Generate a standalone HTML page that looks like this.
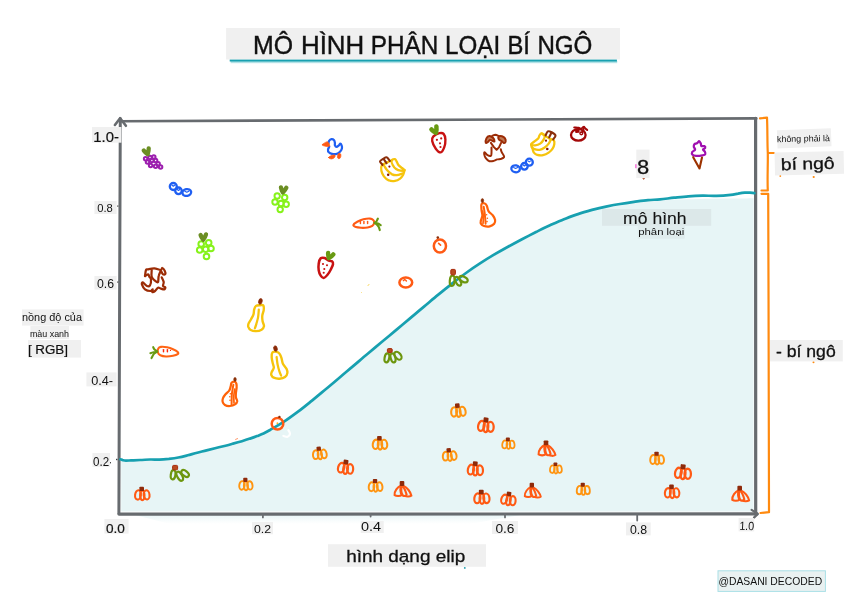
<!DOCTYPE html>
<html lang="vi">
<head>
<meta charset="utf-8">
<title>Mô hình phân loại bí ngô</title>
<style>
  html, body { margin: 0; padding: 0; background: #ffffff; }
  body { width: 849px; height: 600px; overflow: hidden; }
  svg { display: block; }
  text { font-family: "Liberation Sans", sans-serif; fill: #111; }
  .lbl { fill: #f0f0f0; }
  .ax { stroke: #676b6f; fill: none; stroke-linecap: round; stroke-linejoin: round; }
  .or { stroke: #ff8a0f; fill: none; stroke-width: 2.2; stroke-linecap: round; stroke-linejoin: round; }
  .ic { fill: none; stroke-width: 1.6; stroke-linecap: round; stroke-linejoin: round; }
</style>
</head>
<body>
<svg width="849" height="600" viewBox="0 0 849 600">
  <defs>
    <!-- pumpkin: body stroke colour via currentColor -->
    <g id="pk">
      <g fill="none" stroke="currentColor" stroke-width="2.1">
        <ellipse cx="-4.3" cy="2.4" rx="2.9" ry="4.7" transform="rotate(7 -4.3 2.4)"/>
        <ellipse cx="0" cy="2.8" rx="2.2" ry="4.9"/>
        <ellipse cx="4.3" cy="2.4" rx="2.9" ry="4.6" transform="rotate(-7 4.3 2.4)"/>
      </g>
      <rect x="-2.9" y="-5.8" width="4.6" height="4.4" rx="0.9" fill="#8f2a0a"/>
    </g>
    <!-- triangular pumpkin -->
    <g id="pkt">
      <g fill="none" stroke="currentColor" stroke-width="2.1" stroke-linejoin="round">
        <path d="M-1.5,-2.5 C-5,-1 -8.5,3.4 -8,7.2 C-6,8.6 -2.5,8.3 -1,7.2 C-2.5,3.4 -2.5,0 -1.5,-2.5 Z"/>
        <path d="M-0.5,-2.5 C-2,1 -1.5,5.6 0.5,7.8 C2,8.3 3.5,7.8 4,6.7 C3,3 1.5,-0.5 -0.5,-2.5 Z"/>
        <path d="M1,-2 C4.5,-0.5 8,4.2 8.8,7.8 C7,9 3.5,8.8 2.5,7.8"/>
      </g>
      <rect x="-2.9" y="-6.8" width="4.6" height="4.8" rx="0.9" fill="#8f2a0a"/>
    </g>
    <!-- green fan pumpkin -->
    <g id="pkg">
      <g fill="none" stroke="#6c960e" stroke-width="2.2">
        <ellipse cx="-5.6" cy="1.5" rx="2.3" ry="4.6" transform="rotate(10 -5.6 1.5)"/>
        <ellipse cx="0.5" cy="1.5" rx="2.3" ry="4.6" transform="rotate(-15 0.5 1.5)"/>
        <ellipse cx="5.6" cy="-0.8" rx="2.8" ry="4.2" transform="rotate(-38 5.6 -0.8)"/>
      </g>
      <rect x="-5.4" y="-8.2" width="5.2" height="4.4" rx="1" fill="#b84a20" stroke="#a82808" stroke-width="1"/>
    </g>
    <linearGradient id="ulg" x1="0" y1="0" x2="0" y2="1">
      <stop offset="0" stop-color="#3fb3c0" stop-opacity="0.95"/>
      <stop offset="1" stop-color="#9fdbe2" stop-opacity="0"/>
    </linearGradient>
    <linearGradient id="haze" x1="0" y1="0" x2="0" y2="1">
      <stop offset="0" stop-color="#dff1f3" stop-opacity="0.7"/>
      <stop offset="1" stop-color="#e7f5f6" stop-opacity="0"/>
    </linearGradient>
    <!-- heart leaf -->
    <path id="heart" d="M-2.6,-2.2 C-2.1,-0.6 -1,1.2 0,2.5 C1.2,0.9 2.3,-1 2.8,-2.8" fill="none" stroke="currentColor" stroke-width="4.3" stroke-linecap="round" stroke-linejoin="round"/>
  </defs>

  <rect width="849" height="600" fill="#ffffff"/>

  <!-- ===== title ===== -->
  <rect class="lbl" x="226.1" y="28" width="393.9" height="31.5"/>
  <rect x="229.7" y="59.6" width="387.2" height="1.9" fill="#18a0b0"/>
  <rect x="230.6" y="61.3" width="386.6" height="2.6" fill="url(#ulg)"/>
  <text id="t_title" y="53.9" font-size="25" stroke="#111" stroke-width="0.4"><tspan x="253.0" textLength="40" lengthAdjust="spacingAndGlyphs">MÔ</tspan> <tspan x="301.0" textLength="63.2" lengthAdjust="spacingAndGlyphs">HÌNH</tspan> <tspan x="370.8" textLength="67.5" lengthAdjust="spacingAndGlyphs">PHÂN</tspan> <tspan x="445.1" textLength="55.1" lengthAdjust="spacingAndGlyphs">LOẠI</tspan> <tspan x="507.4" textLength="22.5" lengthAdjust="spacingAndGlyphs">BÍ</tspan> <tspan x="537.4" textLength="55" lengthAdjust="spacingAndGlyphs">NGÔ</tspan></text>

  <!-- ===== region fill under curve ===== -->
  <path id="fill" fill="#e7f5f6" d="M121.2,460.0 C121.5,460.0 122.2,460.1 123.0,460.2 C123.8,460.3 124.7,460.6 126.0,460.6 C127.3,460.6 128.7,460.5 131.0,460.4 C133.3,460.3 136.8,460.1 140.0,460.0 C143.2,459.9 146.8,459.6 150.0,459.5 C153.2,459.4 156.2,459.7 159.4,459.6 C162.6,459.5 165.8,459.2 168.9,458.9 C172.1,458.5 175.2,458.1 178.3,457.5 C181.4,456.9 184.5,456.1 187.7,455.3 C190.8,454.5 194.0,453.5 197.2,452.7 C200.3,451.9 203.5,451.2 206.6,450.4 C209.7,449.6 212.8,448.8 216.0,448.0 C219.2,447.2 222.7,446.4 225.5,445.7 C228.3,445.0 230.3,444.4 233.0,443.6 C235.7,442.9 239.1,442.0 241.9,441.2 C244.7,440.4 247.5,439.5 250.0,438.6 C252.5,437.8 254.8,437.0 257.0,436.1 C259.2,435.2 261.3,434.4 263.5,433.4 C265.7,432.4 266.6,431.9 270.0,430.0 C273.4,428.0 279.3,424.7 284.0,421.7 C288.7,418.6 293.3,415.2 298.0,411.7 C302.7,408.2 307.3,404.4 312.0,400.6 C316.7,396.8 321.3,392.9 326.0,389.0 C330.7,385.1 335.3,381.2 340.0,377.2 C344.7,373.3 349.3,369.3 354.0,365.4 C358.7,361.4 363.3,357.4 368.0,353.5 C372.7,349.6 377.3,345.7 382.0,341.8 C386.7,337.9 391.3,334.0 396.0,330.1 C400.7,326.2 405.3,322.3 410.0,318.4 C414.7,314.4 419.3,310.5 424.0,306.6 C428.7,302.7 433.3,298.7 438.0,294.9 C442.7,291.1 447.3,287.3 452.0,283.6 C456.7,280.0 461.3,276.4 466.0,273.0 C470.7,269.6 475.3,266.4 480.0,263.4 C484.7,260.3 489.3,257.5 494.0,254.7 C498.7,251.9 503.3,249.3 508.0,246.7 C512.7,244.2 517.3,241.7 522.0,239.2 C526.7,236.8 531.3,234.4 536.0,232.0 C540.7,229.7 545.3,227.4 550.0,225.3 C554.7,223.2 559.3,221.1 564.0,219.2 C568.7,217.4 573.3,215.6 578.0,214.1 C582.7,212.5 587.3,211.2 592.0,209.9 C596.7,208.7 601.3,207.6 606.0,206.6 C610.7,205.6 615.3,204.7 620.0,204.0 C624.7,203.2 628.7,202.4 634.0,201.8 C639.3,201.2 645.2,200.8 651.9,200.4 C658.6,200.0 666.0,199.8 674.0,199.6 C682.0,199.4 690.7,199.2 700.0,199.0 C709.3,198.8 721.1,198.7 730.0,198.6 C738.9,198.5 749.7,198.3 753.6,198.2 L753.5,511.4 L121.2,511.4 Z"/>

  <!-- faint haze under x axis -->
  <path d="M135,515 L520,515 L470,524 L170,524 Z" fill="url(#haze)"/>
  <!-- ===== axes frame ===== -->
  <path class="ax" stroke-width="3" d="M118.9,513.5 L119.6,300 L120.3,118.6"/>
  <path class="ax" stroke-width="2.6" d="M120.3,121.2 L756.3,118.4"/>
  <path class="ax" stroke-width="3.2" d="M755.6,118.4 L755.7,513.9"/>
  <path class="ax" stroke-width="3.2" d="M119,514.1 L757,513.9"/>
  <!-- arrow heads -->
  <path class="ax" stroke-width="2.6" d="M114.9,125 L120.1,118.2 L125.9,125.8"/>
  <path class="ax" stroke-width="2.2" d="M751.6,509.8 L757.8,513.9 L754,517.6"/>

  <!-- ===== decision curve ===== -->
  <path id="curve" fill="none" stroke="#17a0b0" stroke-width="2.7" stroke-linecap="round" stroke-linejoin="round" d="M120.4,459.3 C120.8,459.4 122.1,460.0 123.0,460.2 C123.9,460.4 124.7,460.6 126.0,460.6 C127.3,460.6 128.7,460.5 131.0,460.4 C133.3,460.3 136.8,460.1 140.0,460.0 C143.2,459.9 146.8,459.6 150.0,459.5 C153.2,459.4 156.2,459.7 159.4,459.6 C162.6,459.5 165.8,459.2 168.9,458.9 C172.1,458.5 175.2,458.1 178.3,457.5 C181.4,456.9 184.5,456.1 187.7,455.3 C190.8,454.5 194.0,453.5 197.2,452.7 C200.3,451.9 203.5,451.2 206.6,450.4 C209.7,449.6 212.8,448.8 216.0,448.0 C219.2,447.2 222.7,446.4 225.5,445.7 C228.3,445.0 230.3,444.4 233.0,443.6 C235.7,442.9 239.1,442.0 241.9,441.2 C244.7,440.4 247.5,439.5 250.0,438.6 C252.5,437.8 254.8,437.0 257.0,436.1 C259.2,435.2 261.3,434.4 263.5,433.4 C265.7,432.4 266.6,431.9 270.0,430.0 C273.4,428.0 279.3,424.7 284.0,421.7 C288.7,418.6 293.3,415.2 298.0,411.7 C302.7,408.2 307.3,404.4 312.0,400.6 C316.7,396.8 321.3,392.9 326.0,389.0 C330.7,385.1 335.3,381.2 340.0,377.2 C344.7,373.3 349.3,369.3 354.0,365.4 C358.7,361.4 363.3,357.4 368.0,353.5 C372.7,349.6 377.3,345.7 382.0,341.8 C386.7,337.9 391.3,334.0 396.0,330.1 C400.7,326.2 405.3,322.3 410.0,318.4 C414.7,314.4 419.3,310.5 424.0,306.6 C428.7,302.7 433.3,298.7 438.0,294.9 C442.7,291.1 447.3,287.3 452.0,283.6 C456.7,280.0 461.3,276.4 466.0,273.0 C470.7,269.6 475.3,266.4 480.0,263.4 C484.7,260.3 489.3,257.5 494.0,254.7 C498.7,251.9 503.3,249.3 508.0,246.7 C512.7,244.2 517.3,241.7 522.0,239.2 C526.7,236.8 531.3,234.4 536.0,232.0 C540.7,229.7 545.3,227.4 550.0,225.3 C554.7,223.2 559.3,221.1 564.0,219.2 C568.7,217.4 573.3,215.6 578.0,214.1 C582.7,212.5 587.3,211.2 592.0,209.9 C596.7,208.7 601.3,207.6 606.0,206.6 C610.7,205.6 615.3,204.7 620.0,204.0 C624.7,203.2 629.3,202.5 634.0,201.8 C638.7,201.2 643.7,200.5 648.0,200.1 C652.3,199.7 655.6,199.8 660.0,199.4 C664.4,199.0 669.4,198.2 674.1,197.7 C678.8,197.2 683.6,196.6 688.3,196.3 C693.0,196.0 697.7,195.8 702.4,195.7 C707.1,195.6 711.8,196.0 716.5,195.8 C721.2,195.7 727.1,195.2 730.7,194.8 C734.3,194.5 735.6,194.0 738.0,193.7 C740.4,193.3 742.8,192.9 744.8,192.7 C746.8,192.5 748.4,192.6 750.0,192.7 C751.6,192.8 753.7,193.0 754.4,193.1"/>

  <!-- ===== orange brackets ===== -->
  <path class="or" d="M760,118.4 L767,117.7 C767.6,130 767.2,142 767.8,153 L773.8,153 M767.8,153 C768,166 767.2,178 767.8,190.5 L761.5,190.5"/>
  <path class="or" d="M761.5,193.8 L768.2,193.8 C768.8,300 768.4,400 769,512.2 L760.5,513"/>
  <circle cx="780.3" cy="176" r="0.9" fill="#ff8a0f"/>
  <circle cx="813.7" cy="177" r="1.1" fill="#ff8a0f"/>
  <circle cx="813.5" cy="362.2" r="1" fill="#ff8a0f"/>

  <!-- ===== right labels ===== -->
  <rect class="lbl" x="777.2" y="129.2" width="54" height="18.2" transform="rotate(-2.2 804.2 138.3)"/>
  <text x="777.0" y="141.6" font-size="8.7" textLength="53.0" lengthAdjust="spacingAndGlyphs" fill="#222" transform="rotate(-1.2 804 141.2)">không phải là</text>
  <rect class="lbl" x="774.8" y="151.8" width="69" height="22.8" transform="rotate(-1.3 809.3 163.2)"/>
  <text x="781.1" y="169.4" font-size="16.5" textLength="53.7" lengthAdjust="spacingAndGlyphs" transform="rotate(-1.6 808 169)" stroke="#111" stroke-width="0.3">bí ngô</text>
  <rect class="lbl" x="770" y="340" width="72.8" height="21.4"/>
  <text x="776.0" y="356.7" font-size="16.5" textLength="59.7" lengthAdjust="spacingAndGlyphs" stroke="#111" stroke-width="0.3">- bí ngô</text>

  <!-- ===== y axis labels ===== -->
  <rect class="lbl" x="92" y="127" width="29.4" height="15.7"/>
  <text x="93.3" y="141.6" font-size="14.2" textLength="25.6" lengthAdjust="spacingAndGlyphs" stroke="#111" stroke-width="0.2">1.0-</text>
  <rect class="lbl" x="94.4" y="201" width="22.2" height="13"/>
  <text x="97.2" y="212.4" font-size="11" textLength="15.6" lengthAdjust="spacingAndGlyphs" fill="#000">0.8</text>
  <rect x="117.2" y="205.4" width="1.2" height="1.4" fill="#555"/>
  <rect class="lbl" x="94.4" y="276" width="22.2" height="13.6"/>
  <text x="97.0" y="288.4" font-size="12" textLength="17.1" lengthAdjust="spacingAndGlyphs" fill="#333">0.6</text>
  <rect x="117.2" y="281.4" width="1.2" height="1.4" fill="#555"/>
  <rect class="lbl" x="86.4" y="372.4" width="30.2" height="14"/>
  <text x="91.2" y="385.4" font-size="12" textLength="21.9" lengthAdjust="spacingAndGlyphs" fill="#333">0.4-</text>
  <rect class="lbl" x="92.4" y="453" width="17.6" height="14"/>
  <text x="93.0" y="466" font-size="12.5" textLength="16.1" lengthAdjust="spacingAndGlyphs">0.2</text>
  <rect x="110" y="462" width="1" height="1.4" fill="#444"/>
  <rect x="116" y="458.8" width="1.4" height="1.4" fill="#444"/>

  <!-- ===== y axis title ===== -->
  <rect class="lbl" x="22" y="309.4" width="61.6" height="16.2"/>
  <text x="22.0" y="321" font-size="10.6" textLength="60.0" lengthAdjust="spacingAndGlyphs" fill="#222">nồng độ của</text>
  <rect class="lbl" x="30.4" y="326" width="38.6" height="13"/>
  <text x="29.9" y="337" font-size="8.4" textLength="39.1" lengthAdjust="spacingAndGlyphs" fill="#222">màu xanh</text>
  <rect class="lbl" x="28" y="340" width="53" height="17.6"/>
  <text x="27.9" y="354.4" font-size="13.6" textLength="40.1" lengthAdjust="spacingAndGlyphs" stroke="#111" stroke-width="0.2">[ RGB]</text>

  <!-- ===== x axis labels ===== -->
  <rect class="lbl" x="104.4" y="519" width="24.2" height="14.6"/>
  <text x="105.9" y="533" font-size="13" textLength="18.9" lengthAdjust="spacingAndGlyphs" stroke="#111" stroke-width="0.2">0.0</text>
  <rect class="lbl" x="252" y="522" width="21" height="12.3"/>
  <text x="254.0" y="532.5" font-size="11.4" textLength="17.1" lengthAdjust="spacingAndGlyphs">0.2</text>
  <rect class="lbl" x="360.7" y="521" width="23" height="12"/>
  <text x="360.9" y="531" font-size="12.4" textLength="20.1" lengthAdjust="spacingAndGlyphs" fill="#333">0.4</text>
  <rect class="lbl" x="492" y="521" width="26" height="13"/>
  <text x="495.4" y="532.5" font-size="12" textLength="19.1" lengthAdjust="spacingAndGlyphs" fill="#333">0.6</text>
  <rect class="lbl" x="626" y="522.4" width="24.7" height="13"/>
  <text x="630.0" y="534" font-size="12" textLength="17.1" lengthAdjust="spacingAndGlyphs" fill="#333">0.8</text>
  <rect class="lbl" x="738.6" y="518" width="15.6" height="13.4"/>
  <text x="739.4" y="530" font-size="12" textLength="14.9" lengthAdjust="spacingAndGlyphs" fill="#333" transform="rotate(3 746 525)">1.0</text>
  <!-- ticks -->
  <g stroke="#6a6e72" stroke-width="1.8" stroke-linecap="round">
    <path d="M262.9,514 V517.4"/>
    <path d="M370.6,514 V516.6"/>
    <path d="M505,514 V517.4"/>
    <path d="M637.2,514 V520.6"/>
  </g>

  <!-- ===== x axis title ===== -->
  <rect class="lbl" x="328" y="544.2" width="158" height="22.6"/>
  <text x="346.2" y="562.1" font-size="17.4" textLength="119.0" lengthAdjust="spacingAndGlyphs" stroke="#111" stroke-width="0.3">hình dạng elip</text>
  <circle cx="464.8" cy="567.9" r="0.9" fill="#1b9bab"/>

  <!-- ===== credit ===== -->
  <rect x="718" y="570.8" width="107.4" height="20.6" fill="#e9f1f1" stroke="#a9dfe6" stroke-width="1"/>
  <text x="718.4" y="585" font-size="11.4" textLength="103.8" lengthAdjust="spacingAndGlyphs">@DASANI DECODED</text>

  <!-- ===== model label ===== -->
  <rect x="602" y="209" width="109.2" height="16.8" fill="#dce8e9"/>
  <text x="623.1" y="224.4" font-size="15.6" textLength="63.5" lengthAdjust="spacingAndGlyphs" fill="#222" stroke="#222" stroke-width="0.12">mô hình</text>
  <rect x="637.8" y="225.8" width="47" height="12.9" fill="#dfeced"/>
  <text x="638.2" y="235.4" font-size="9.6" textLength="46.1" lengthAdjust="spacingAndGlyphs" fill="#222">phân loại</text>

  <!-- ===== "8" label ===== -->
  <rect class="lbl" x="636.3" y="149.6" width="13.2" height="28.5"/>
  <text x="636.9" y="174.4" font-size="20.6" textLength="12.2" lengthAdjust="spacingAndGlyphs" stroke="#111" stroke-width="0.3">8</text>
  <rect x="635.4" y="164.2" width="1" height="4" fill="#f032c8"/>
  <path d="M642.2,178.2 L645.2,178.2 L643.7,179.8 Z" fill="#a33008"/>

  <!-- tiny stray marks -->
  <path d="M368,285.6 L369,284.4" stroke="#f6c40c" stroke-width="0.9" stroke-linecap="round" opacity="0.8"/>
  <circle cx="361.5" cy="292.5" r="0.5" fill="#f6c40c" opacity="0.6"/>
  <path d="M235.6,439.4 L237.6,438.6" stroke="#ff5a14" stroke-width="0.8" stroke-linecap="round" opacity="0.8"/>
  <!-- ICONS -->
  <g id="icons">
    <!-- purple grapes -->
    <circle cx="145.6" cy="158.7" r="1.75" fill="none" stroke="#9c1fae" stroke-width="1.98"/>
    <circle cx="150" cy="157.5" r="1.75" fill="none" stroke="#9c1fae" stroke-width="1.98"/>
    <circle cx="153.8" cy="156.9" r="1.75" fill="none" stroke="#9c1fae" stroke-width="1.98"/>
    <circle cx="147.5" cy="161.9" r="1.75" fill="none" stroke="#9c1fae" stroke-width="1.98"/>
    <circle cx="151.9" cy="160.6" r="1.75" fill="none" stroke="#9c1fae" stroke-width="1.98"/>
    <circle cx="155.6" cy="160.6" r="1.75" fill="none" stroke="#9c1fae" stroke-width="1.98"/>
    <circle cx="150.6" cy="165.6" r="1.75" fill="none" stroke="#9c1fae" stroke-width="1.98"/>
    <circle cx="155.6" cy="166.2" r="1.75" fill="none" stroke="#9c1fae" stroke-width="1.98"/>
    <circle cx="160.6" cy="166.9" r="1.75" fill="none" stroke="#9c1fae" stroke-width="1.98"/>
    <circle cx="158.1" cy="163.8" r="1.75" fill="none" stroke="#9c1fae" stroke-width="1.98"/>
    <use href="#heart" transform="translate(146.9 151.9) rotate(-18) scale(1.0)" color="#6b8e23"/>
    <!-- blueberries -->
    <circle cx="173.3" cy="186.5" r="3.5" fill="none" stroke="#1f5ff2" stroke-width="2.31"/>
    <circle cx="178.5" cy="190.8" r="3.3" fill="none" stroke="#1f5ff2" stroke-width="2.31"/>
    <ellipse cx="186.8" cy="192.5" rx="4.4" ry="3.4" fill="none" stroke="#1f5ff2" stroke-width="2.31" transform="rotate(-12 186.8 192.5)"/>
    <path d="M172.0,185.2 L173.3,186.2 L174.6,185.2" fill="none" stroke="#1f5ff2" stroke-width="1.12" stroke-linecap="round" stroke-linejoin="round"/>
    <path d="M177.3,189.5 L178.5,190.5 L179.7,189.5" fill="none" stroke="#1f5ff2" stroke-width="1.12" stroke-linecap="round" stroke-linejoin="round"/>
    <path d="M184.8,191.2 L186.8,192.2 L188.8,191.2" fill="none" stroke="#1f5ff2" stroke-width="1.12" stroke-linecap="round" stroke-linejoin="round"/>
    <circle cx="529.3" cy="162.2" r="3.5" fill="none" stroke="#1f5ff2" stroke-width="2.31"/>
    <circle cx="524.4" cy="166.3" r="3.3" fill="none" stroke="#1f5ff2" stroke-width="2.31"/>
    <ellipse cx="515.6" cy="168.8" rx="4.3" ry="3.4" fill="none" stroke="#1f5ff2" stroke-width="2.31" transform="rotate(12 515.6 168.8)"/>
    <path d="M528.0,160.9 L529.3,161.9 L530.6,160.9" fill="none" stroke="#1f5ff2" stroke-width="1.12" stroke-linecap="round" stroke-linejoin="round"/>
    <path d="M523.2,165.0 L524.4,166.0 L525.6,165.0" fill="none" stroke="#1f5ff2" stroke-width="1.12" stroke-linecap="round" stroke-linejoin="round"/>
    <path d="M513.6,167.5 L515.6,168.5 L517.6,167.5" fill="none" stroke="#1f5ff2" stroke-width="1.12" stroke-linecap="round" stroke-linejoin="round"/>
    <!-- green grapes -->
    <circle cx="201.2" cy="244" r="2.8" fill="none" stroke="#86f21a" stroke-width="1.98"/>
    <circle cx="208.7" cy="242.8" r="2.8" fill="none" stroke="#86f21a" stroke-width="1.98"/>
    <circle cx="199.7" cy="250" r="2.8" fill="none" stroke="#86f21a" stroke-width="1.98"/>
    <circle cx="205.7" cy="249.2" r="2.8" fill="none" stroke="#86f21a" stroke-width="1.98"/>
    <circle cx="211" cy="248.5" r="2.8" fill="none" stroke="#86f21a" stroke-width="1.98"/>
    <circle cx="206.5" cy="256.5" r="2.8" fill="none" stroke="#86f21a" stroke-width="1.98"/>
    <use href="#heart" transform="translate(203.2 237.2) rotate(0) scale(1.0)" color="#6b8e23"/>
    <circle cx="277.2" cy="196" r="2.7" fill="none" stroke="#86f21a" stroke-width="1.98"/>
    <circle cx="284.7" cy="197.5" r="2.7" fill="none" stroke="#86f21a" stroke-width="1.98"/>
    <circle cx="275" cy="202" r="2.7" fill="none" stroke="#86f21a" stroke-width="1.98"/>
    <circle cx="281" cy="203.5" r="2.7" fill="none" stroke="#86f21a" stroke-width="1.98"/>
    <circle cx="286.2" cy="204.2" r="2.7" fill="none" stroke="#86f21a" stroke-width="1.98"/>
    <circle cx="280.2" cy="209.5" r="2.7" fill="none" stroke="#86f21a" stroke-width="1.98"/>
    <use href="#heart" transform="translate(283.2 190) rotate(8) scale(1.0)" color="#6b8e23"/>
    <!-- dogs -->
    <path d="M145.0,276.0 C145.2,275.0 145.5,271.1 146.0,270.0 C146.5,268.9 146.6,269.6 148.0,269.3 C149.4,269.0 152.2,268.2 154.3,268.3 C156.4,268.4 159.4,270.1 160.7,270.0 C162.0,269.9 161.6,267.9 162.3,268.0 C163.0,268.1 164.2,269.7 164.7,270.7 C165.2,271.7 165.6,273.4 165.3,274.0 C165.0,274.6 163.7,274.8 163.0,274.3 C162.3,273.8 161.3,271.6 161.0,271.0" fill="none" stroke="#9c2c06" stroke-width="2.24" stroke-linecap="round" stroke-linejoin="round"/>
    <path d="M151.7,270.0 C151.7,271.1 151.1,274.9 151.7,276.7 C152.2,278.5 153.9,279.8 155.0,280.7 C156.1,281.6 157.4,282.8 158.0,282.0 C158.6,281.2 158.2,277.8 158.7,276.0 C159.1,274.2 160.4,271.8 160.7,271.0" fill="none" stroke="#9c2c06" stroke-width="2.24" stroke-linecap="round" stroke-linejoin="round"/>
    <path d="M145.0,276.0 C145.6,275.7 147.6,274.2 148.3,274.3 C149.0,274.4 148.9,275.9 149.3,276.7 C149.8,277.5 150.9,277.9 151.0,279.3 C151.1,280.7 150.7,284.2 150.0,285.3 C149.3,286.4 148.2,286.5 147.0,286.0 C145.8,285.5 143.5,282.5 142.7,282.3 C141.9,282.1 141.6,283.5 142.0,284.7 C142.4,285.9 143.6,288.2 145.0,289.3 C146.4,290.4 149.0,291.0 150.3,291.0 C151.6,291.0 152.4,289.1 152.7,289.3 C153.0,289.5 151.9,291.7 152.3,292.0 C152.7,292.3 154.1,291.7 155.0,291.0 C155.9,290.3 157.0,288.1 158.0,287.7 C159.0,287.3 159.9,288.4 161.0,288.7 C162.1,289.0 163.6,289.5 164.3,289.3 C165.0,289.1 165.5,287.9 165.3,287.3 C165.1,286.8 163.3,286.9 163.0,286.0 C162.7,285.1 163.9,283.4 163.7,282.0 C163.5,280.6 162.0,278.1 161.7,277.3" fill="none" stroke="#9c2c06" stroke-width="2.24" stroke-linecap="round" stroke-linejoin="round"/>
    <path d="M485.8,142.9 C485.6,142.3 485.8,139.6 486.4,138.4 C487.0,137.2 488.3,136.1 489.4,136.0 C490.5,135.9 492.1,136.9 493.0,137.8 C493.9,138.7 494.6,140.9 494.5,141.4 C494.4,141.9 493.1,141.1 492.4,140.8 C491.6,140.6 490.8,139.7 490.0,139.9 C489.2,140.1 488.6,141.5 487.9,142.0 C487.2,142.5 486.1,143.5 485.8,142.9 Z" fill="#c07a55" stroke="#9c2c06" stroke-width="1.98" stroke-linecap="round" stroke-linejoin="round"/>
    <path d="M498.7,136.6 C499.2,136.1 500.9,136.0 502.0,136.3 C503.1,136.6 504.4,137.5 505.0,138.4 C505.6,139.3 505.8,140.9 505.6,141.7 C505.4,142.4 504.5,143.0 503.8,142.9 C503.1,142.8 502.5,141.7 501.7,141.1 C500.9,140.5 499.5,140.3 499.0,139.6 C498.5,138.8 498.2,137.1 498.7,136.6 Z" fill="#c07a55" stroke="#9c2c06" stroke-width="1.98" stroke-linecap="round" stroke-linejoin="round"/>
    <path d="M492.4,135.7 C492.9,135.5 494.3,134.8 495.4,134.8 C496.4,134.9 498.1,135.8 498.7,136.0" fill="none" stroke="#9c2c06" stroke-width="1.98" stroke-linecap="round" stroke-linejoin="round"/>
    <path d="M490.9,142.9 L493.9,147.1 L496.6,149.8 L499.0,147.4 L501.1,142.9" fill="none" stroke="#9c2c06" stroke-width="1.98" stroke-linecap="round" stroke-linejoin="round"/>
    <path d="M491.5,147.4 C491.5,148.3 491.6,151.4 491.5,152.8 C491.4,154.2 491.5,155.4 490.9,155.8 C490.2,156.2 488.7,155.8 487.6,155.2 C486.6,154.6 485.2,152.3 484.6,152.2 C484.1,152.1 484.1,153.6 484.3,154.6 C484.5,155.6 485.0,157.1 485.8,158.2 C486.6,159.3 488.1,160.8 489.4,161.2 C490.7,161.6 492.3,161.2 493.6,160.9 C494.9,160.6 495.9,159.8 497.2,159.4 C498.5,159.1 500.2,159.2 501.4,158.8 C502.5,158.4 503.8,157.7 504.1,157.0 C504.4,156.3 503.6,155.4 503.2,154.6 C502.8,153.8 502.1,153.1 501.7,152.2 C501.3,151.3 500.9,149.7 500.8,149.2" fill="none" stroke="#9c2c06" stroke-width="1.98" stroke-linecap="round" stroke-linejoin="round"/>
    <!-- duck -->
    <path d="M328.5,143.5 C328.6,143.1 328.6,141.5 329.1,140.8 C329.6,140.1 330.7,139.3 331.5,139.2 C332.3,139.1 333.3,139.4 333.9,140.0 C334.5,140.6 334.7,141.8 334.9,142.7 C335.1,143.6 334.6,144.6 334.9,145.3 C335.2,146.0 335.8,146.9 336.5,146.9 C337.2,146.9 338.3,145.8 338.9,145.3 C339.5,144.8 339.9,143.7 340.3,143.7 C340.8,143.7 341.3,144.5 341.6,145.3 C341.9,146.1 342.2,147.4 341.9,148.5 C341.6,149.6 340.9,150.8 340.0,151.7 C339.1,152.6 338.1,153.5 336.8,153.9 C335.5,154.3 333.3,154.2 332.0,153.9 C330.7,153.6 329.5,153.0 328.8,152.3 C328.1,151.6 327.9,150.5 328.0,149.6 C328.1,148.7 329.1,147.2 329.3,146.7" fill="none" stroke="#1f5ff2" stroke-width="2.24" stroke-linecap="round" stroke-linejoin="round"/>
    <path d="M322.4,144.5 C323.0,143.9 325.6,142.1 326.7,141.9 C327.8,141.7 328.3,142.5 328.8,143.2 C329.3,143.9 330.0,145.4 329.6,145.9 C329.2,146.4 327.8,146.5 326.7,146.4 C325.6,146.3 323.9,145.9 323.2,145.6 C322.5,145.3 321.8,145.1 322.4,144.5 Z" fill="#ff5a14" stroke="#ff5a14" stroke-width="0.79" stroke-linecap="round" stroke-linejoin="round"/>
    <path d="M328.5,157.6 C328.5,157.0 330.4,155.9 331.5,155.5 C332.6,155.1 334.4,154.8 334.9,155.2 C335.4,155.5 335.0,157.0 334.4,157.6 C333.8,158.2 332.5,158.9 331.5,158.9 C330.5,158.9 328.5,158.2 328.5,157.6 Z" fill="#ff5a14" stroke="#ff5a14" stroke-width="0.79" stroke-linecap="round" stroke-linejoin="round"/>
    <ellipse cx="339.2" cy="156" rx="1.7" ry="2.7" fill="#ff5a14" stroke="#ff5a14" stroke-width="0.66" transform="rotate(12 339.2 156)"/>
    <!-- bananas -->
    <path d="M391.6,160.5 C390.8,160.8 388.5,161.8 386.8,162.6 C385.1,163.4 382.6,164.2 381.7,165.6 C380.8,166.9 381.0,168.9 381.4,170.7 C381.8,172.5 382.7,174.8 383.9,176.4 C385.1,178.0 386.8,179.6 388.7,180.3 C390.6,181.1 393.1,181.2 395.0,180.9 C396.9,180.6 398.7,179.6 400.1,178.6 C401.5,177.6 402.4,176.1 403.2,174.7 C403.9,173.3 404.4,170.9 404.6,170.1" fill="none" stroke="#f6c40c" stroke-width="2.31" stroke-linecap="round" stroke-linejoin="round"/>
    <path d="M384.2,165.9 C384.7,166.6 385.8,168.7 387.0,170.1 C388.2,171.5 390.0,173.2 391.6,174.1 C393.2,174.9 394.9,175.3 396.7,175.2 C398.5,175.1 401.4,173.8 402.3,173.5" fill="none" stroke="#f6c40c" stroke-width="2.31" stroke-linecap="round" stroke-linejoin="round"/>
    <path d="M391.6,160.5 C392.0,159.5 394.1,158.9 395.0,159.1 C395.9,159.3 396.1,160.6 396.7,161.6 C397.3,162.6 397.5,163.9 398.4,165.0 C399.2,166.1 400.8,167.1 401.8,167.9 C402.8,168.8 404.8,169.6 404.6,170.1 C404.4,170.6 402.0,170.9 400.6,170.7 C399.2,170.5 397.4,169.9 396.1,169.0 C394.8,168.1 393.4,166.4 392.7,165.0 C391.9,163.6 391.2,161.5 391.6,160.5 Z" fill="none" stroke="#f6c40c" stroke-width="2.31" stroke-linecap="round" stroke-linejoin="round"/>
    <path d="M382.5,164.8 C382.1,164.2 379.9,162.4 380.0,161.4 C380.1,160.4 381.9,159.5 383.1,158.8 C384.3,158.1 385.9,157.0 387.0,157.4 C388.1,157.8 389.3,160.4 389.8,161.0" fill="none" stroke="#8c2f0c" stroke-width="2.11" stroke-linecap="round" stroke-linejoin="round"/>
    <path d="M383.9,159.4 L386.5,163.1" fill="none" stroke="#8c2f0c" stroke-width="2.11" stroke-linecap="round" stroke-linejoin="round"/>
    <circle cx="389.4" cy="166.6" r="1.1" fill="#8a1a00"/>
    <circle cx="388.2" cy="174.8" r="1.25" fill="#8a1a00"/>
    <path d="M541.6,133.4 C542.2,133.8 543.9,135.0 545.3,135.9 C546.7,136.8 548.4,138.1 549.8,138.8 C551.2,139.5 553.0,139.3 553.8,140.2 C554.5,141.1 554.5,142.7 554.3,144.1 C554.1,145.5 553.5,147.3 552.6,148.7 C551.7,150.1 550.3,151.5 548.7,152.6 C547.1,153.7 544.9,154.8 543.0,155.2 C541.1,155.6 538.8,155.3 537.3,154.9 C535.8,154.5 534.7,153.6 533.9,152.6 C533.1,151.6 533.0,150.0 532.5,148.7 C532.0,147.4 531.3,145.4 531.1,144.7" fill="none" stroke="#f6c40c" stroke-width="2.31" stroke-linecap="round" stroke-linejoin="round"/>
    <path d="M550.9,139.6 C550.5,140.3 549.7,142.3 548.7,143.6 C547.7,144.9 546.2,146.5 544.7,147.5 C543.2,148.5 541.3,149.5 539.6,149.8 C537.9,150.1 535.8,149.7 534.5,149.2 C533.2,148.7 532.2,147.4 531.7,147.0" fill="none" stroke="#f6c40c" stroke-width="2.31" stroke-linecap="round" stroke-linejoin="round"/>
    <path d="M541.6,133.4 C540.8,133.3 540.2,134.2 539.6,135.1 C539.0,135.9 539.1,137.5 538.2,138.5 C537.4,139.5 535.7,140.3 534.5,141.3 C533.3,142.3 531.0,143.7 531.1,144.4 C531.2,145.1 533.6,145.4 535.1,145.3 C536.6,145.2 538.8,144.6 540.2,143.6 C541.6,142.6 542.9,140.9 543.6,139.6 C544.4,138.3 545.0,136.6 544.7,135.6 C544.4,134.6 542.5,133.5 541.6,133.4 Z" fill="none" stroke="#f6c40c" stroke-width="2.31" stroke-linecap="round" stroke-linejoin="round"/>
    <path d="M545.6,135.4 C546.0,134.7 546.8,131.9 547.8,131.4 C548.8,130.9 550.2,131.5 551.5,132.2 C552.8,132.9 555.2,134.2 555.5,135.4 C555.8,136.6 553.6,138.7 553.2,139.3" fill="none" stroke="#8c2f0c" stroke-width="2.11" stroke-linecap="round" stroke-linejoin="round"/>
    <path d="M551.5,132.5 L549.2,137.3" fill="none" stroke="#8c2f0c" stroke-width="2.11" stroke-linecap="round" stroke-linejoin="round"/>
    <circle cx="546" cy="140.7" r="1.1" fill="#8a1a00"/>
    <circle cx="547.3" cy="149" r="1.3" fill="#8a1a00"/>
    <!-- strawberries -->
    <path d="M433.4,136.4 C432.2,137.7 431.8,138.9 432.2,140.9 C432.6,142.9 434.4,146.8 435.8,148.7 C437.2,150.6 439.3,152.6 440.7,152.4 C442.1,152.2 443.4,149.5 444.2,147.4 C445.0,145.3 445.5,141.8 445.4,139.6 C445.3,137.3 444.6,135.0 443.6,133.9 C442.6,132.8 441.1,132.8 439.4,133.2 C437.7,133.6 434.6,135.1 433.4,136.4 Z" fill="none" stroke="#c81212" stroke-width="2.38" stroke-linecap="round" stroke-linejoin="round"/>
    <circle cx="436.9" cy="139.8" r="1.1" fill="#c81212"/>
    <circle cx="441.2" cy="138.4" r="1.1" fill="#c81212"/>
    <circle cx="440" cy="143.3" r="1.1" fill="#c81212"/>
    <circle cx="440.5" cy="147" r="1.1" fill="#c81212"/>
    <use href="#heart" transform="translate(434.9 130.4) rotate(-24) scale(1.05)" color="#689a12"/>
    <path d="M320.7,258.3 C319.7,259.2 319.0,261.7 318.7,263.7 C318.4,265.7 318.4,268.3 318.7,270.3 C319.0,272.3 319.9,274.4 320.7,275.7 C321.5,277.0 322.6,278.1 323.7,278.0 C324.8,277.9 326.1,276.4 327.3,275.0 C328.5,273.6 329.8,271.5 330.7,269.7 C331.6,267.9 332.8,265.7 333.0,264.3 C333.2,262.9 332.7,261.9 332.0,261.3 C331.3,260.7 329.9,261.2 328.7,260.7 C327.5,260.1 326.0,258.4 324.7,258.0 C323.4,257.6 321.7,257.4 320.7,258.3 Z" fill="none" stroke="#c81212" stroke-width="2.51" stroke-linecap="round" stroke-linejoin="round"/>
    <circle cx="323" cy="264" r="1.05" fill="#c81212"/>
    <circle cx="327" cy="265.3" r="1.05" fill="#c81212"/>
    <circle cx="324.3" cy="269" r="1.05" fill="#c81212"/>
    <circle cx="323.7" cy="272.7" r="1.05" fill="#c81212"/>
    <use href="#heart" transform="translate(329.7 255.9) rotate(22) scale(1.0)" color="#689a12"/>
    <!-- tomato -->
    <ellipse cx="578.3" cy="134.9" rx="7.3" ry="5.8" fill="none" stroke="#a30808" stroke-width="2.31"/>
    <path d="M574.2,127.4 C574.9,127.5 577.4,127.6 578.6,127.8 C579.8,128.0 580.3,128.9 581.2,128.7 C582.1,128.5 583.1,126.8 583.8,126.7 C584.4,126.6 584.5,127.6 585.1,128.2 C585.7,128.8 586.9,129.7 587.2,130.0" fill="none" stroke="#a30808" stroke-width="1.98" stroke-linecap="round" stroke-linejoin="round"/>
    <path d="M575.8,129.4 L578.6,129.4 L578.8,132.0 L576.0,132.2 Z" fill="#a30808" stroke="#a30808" stroke-width="1.58" stroke-linecap="round" stroke-linejoin="round"/>
    <circle cx="581.3" cy="133.3" r="1.4" fill="none" stroke="#a30808" stroke-width="1.45"/>
    <path d="M583.8,127.5 C583.7,128.1 583.8,130.2 583.4,131.0 C583.0,131.8 581.9,131.8 581.6,132.0" fill="none" stroke="#a30808" stroke-width="1.45" stroke-linecap="round" stroke-linejoin="round"/>
    <!-- ice cream -->
    <path d="M699.2,141.1 C699.8,141.1 700.4,142.8 700.8,143.6 C701.2,144.4 700.8,145.7 701.4,146.1 C702.0,146.5 703.7,145.8 704.3,146.1 C704.9,146.4 705.4,147.4 705.2,148.0 C705.0,148.6 703.0,149.0 703.0,149.6 C703.0,150.2 704.5,151.0 704.9,151.8 C705.3,152.6 705.6,153.8 705.2,154.4 C704.8,155.0 703.9,155.1 702.4,155.3 C700.9,155.6 697.6,156.0 696.0,155.9 C694.4,155.8 693.1,155.3 692.5,154.7 C691.9,154.1 691.8,152.9 692.2,152.1 C692.6,151.2 694.8,150.5 695.1,149.6 C695.4,148.7 693.9,147.7 693.8,146.8 C693.7,145.9 693.9,144.8 694.4,144.2 C694.9,143.6 696.2,143.8 697.0,143.3 C697.8,142.8 698.6,141.1 699.2,141.1 Z" fill="none" stroke="#a010b0" stroke-width="2.24" stroke-linecap="round" stroke-linejoin="round"/>
    <path d="M693.2,157.2 L699.5,168.4 L702.0,157.5" fill="none" stroke="#9c3200" stroke-width="2.11" stroke-linecap="round" stroke-linejoin="round"/>
    <!-- carrots -->
    <path d="M353.4,225.0 C353.6,224.1 355.6,222.6 357.3,221.7 C359.0,220.8 361.3,219.8 363.4,219.3 C365.5,218.8 368.4,218.5 370.0,218.6 C371.6,218.7 372.5,219.3 373.2,220.0 C373.9,220.7 374.3,221.6 374.2,222.6 C374.1,223.6 373.4,225.1 372.3,225.9 C371.2,226.7 369.5,227.2 367.6,227.5 C365.7,227.8 363.1,227.9 361.1,227.8 C359.2,227.7 357.2,227.6 355.9,227.1 C354.6,226.6 353.2,225.9 353.4,225.0 Z" fill="none" stroke="#ff5a14" stroke-width="2.11" stroke-linecap="round" stroke-linejoin="round"/>
    <path d="M360.4,221.4 L360.4,223.6" fill="none" stroke="#ff5a14" stroke-width="1.45" stroke-linecap="round" stroke-linejoin="round"/>
    <path d="M363.9,221.4 L363.9,223.6" fill="none" stroke="#ff5a14" stroke-width="1.45" stroke-linecap="round" stroke-linejoin="round"/>
    <path d="M367.6,221.4 L367.6,223.6" fill="none" stroke="#ff5a14" stroke-width="1.45" stroke-linecap="round" stroke-linejoin="round"/>
    <path d="M374.6,223.0 C374.9,222.7 375.8,222.1 376.4,221.4 C376.9,220.7 377.6,219.1 377.9,218.6" fill="none" stroke="#689a12" stroke-width="2.11" stroke-linecap="round" stroke-linejoin="round"/>
    <path d="M374.6,223.0 C375.2,223.1 377.0,223.2 378.0,223.6 C379.0,224.0 380.2,224.9 380.7,225.2" fill="none" stroke="#689a12" stroke-width="2.11" stroke-linecap="round" stroke-linejoin="round"/>
    <path d="M375.6,223.4 C376.1,223.9 377.7,225.3 378.4,226.4 C379.1,227.5 379.6,229.5 379.8,230.1" fill="none" stroke="#689a12" stroke-width="2.11" stroke-linecap="round" stroke-linejoin="round"/>
    <path d="M158.3,348.5 C158.8,347.6 159.5,347.1 160.9,346.9 C162.3,346.7 165.0,346.9 167.0,347.3 C169.0,347.7 171.2,348.4 173.0,349.2 C174.8,350.0 176.9,351.2 177.7,352.0 C178.5,352.8 178.5,353.5 177.7,354.1 C176.9,354.7 174.9,355.4 173.0,355.8 C171.1,356.2 168.1,356.6 166.0,356.5 C163.9,356.4 161.8,356.0 160.4,355.3 C159.1,354.6 158.2,353.6 157.9,352.5 C157.6,351.4 157.8,349.4 158.3,348.5 Z" fill="none" stroke="#ff6414" stroke-width="2.11" stroke-linecap="round" stroke-linejoin="round"/>
    <path d="M163.5,349.6 L163.5,351.7" fill="none" stroke="#ff2a0a" stroke-width="1.45" stroke-linecap="round" stroke-linejoin="round"/>
    <path d="M167.4,349.6 L167.4,351.7" fill="none" stroke="#ff2a0a" stroke-width="1.45" stroke-linecap="round" stroke-linejoin="round"/>
    <circle cx="170.5" cy="350.4" r="0.6" fill="#ff2a0a"/>
    <path d="M157.2,351.4 C156.8,351.1 155.3,350.3 154.6,349.6 C153.9,348.9 153.4,347.5 153.2,347.1" fill="none" stroke="#689a12" stroke-width="2.11" stroke-linecap="round" stroke-linejoin="round"/>
    <path d="M157.2,351.8 C156.6,351.9 154.7,352.0 153.6,352.2 C152.5,352.4 150.9,353.0 150.4,353.2" fill="none" stroke="#689a12" stroke-width="2.11" stroke-linecap="round" stroke-linejoin="round"/>
    <path d="M156.2,352.2 C155.8,352.5 154.7,352.9 153.9,353.9 C153.1,354.9 151.9,357.4 151.5,358.1" fill="none" stroke="#689a12" stroke-width="2.11" stroke-linecap="round" stroke-linejoin="round"/>
    <!-- oranges -->
    <ellipse cx="439.9" cy="246" rx="6.1" ry="6.5" fill="none" stroke="#ff5a14" stroke-width="2.51"/>
    <circle cx="437.8" cy="237.6" r="1.3" fill="#8c2f0c"/>
    <path d="M438.6,243.4 L440.6,245.2" fill="none" stroke="#ff5a14" stroke-width="1.58" stroke-linecap="round" stroke-linejoin="round"/>
    <ellipse cx="405.8" cy="282.4" rx="6.4" ry="5.0" fill="none" stroke="#ff5a14" stroke-width="2.51"/>
    <path d="M403.4,280.6 C403.7,280.4 404.5,279.5 405.0,279.6 C405.5,279.7 406.2,280.8 406.4,281.0" fill="none" stroke="#ff5a14" stroke-width="1.45" stroke-linecap="round" stroke-linejoin="round"/>
    <circle cx="277.5" cy="423.7" r="5.8" fill="none" stroke="#ff5a14" stroke-width="2.51"/>
    <circle cx="279.4" cy="416.9" r="1.2" fill="#8c2f0c"/>
    <circle cx="277.4" cy="423.2" r="0.9" fill="#ffb020"/>
    <path d="M288.4,430.2 C288.7,430.8 290.1,432.5 290.0,433.6 C289.9,434.7 288.7,436.4 287.6,436.8 C286.5,437.2 284.1,436.1 283.4,436.0" fill="none" stroke="#ffffff" stroke-width="2.24" stroke-linecap="round" stroke-linejoin="round"/>
    <!-- gourds -->
    <path d="M481.5,204.1 C481.0,205.2 481.4,207.9 481.5,209.8 C481.6,211.7 482.5,213.7 482.4,215.5 C482.3,217.3 481.1,219.2 480.9,220.6 C480.6,222.0 480.4,222.8 480.9,223.7 C481.4,224.6 482.5,225.6 484.0,226.0 C485.5,226.4 488.0,226.7 489.7,226.3 C491.4,225.9 493.3,224.8 494.2,223.7 C495.1,222.6 495.3,221.3 495.1,219.9 C494.9,218.5 494.0,217.0 492.9,215.5 C491.8,214.0 489.5,212.7 488.5,211.1 C487.5,209.5 487.5,207.3 486.9,206.0 C486.3,204.7 485.6,203.8 484.7,203.5 C483.8,203.2 482.0,203.0 481.5,204.1 Z" fill="none" stroke="#ff6208" stroke-width="2.24" stroke-linecap="round" stroke-linejoin="round"/>
    <path d="M483.7,206.7 C483.9,207.8 484.4,211.1 484.7,213.0 C484.9,214.9 485.0,216.2 485.2,218.0 C485.4,219.8 485.5,222.8 485.6,223.7" fill="none" stroke="#ff6208" stroke-width="1.98" stroke-linecap="round" stroke-linejoin="round"/>
    <path d="M482.6,211.0 C482.7,212.0 483.3,214.9 483.4,217.0 C483.5,219.1 483.1,222.4 483.0,223.5" fill="none" stroke="#ff6208" stroke-width="1.72" stroke-linecap="round" stroke-linejoin="round"/>
    <circle cx="486.6" cy="214.8" r="0.8" fill="#ff6208"/>
    <circle cx="487.4" cy="218.2" r="0.8" fill="#ff6208"/>
    <circle cx="487" cy="221.6" r="0.8" fill="#ff6208"/>
    <ellipse cx="482.4" cy="200.6" rx="1.3" ry="2.1" fill="#8a3008" stroke="#8a3008" stroke-width="0.53"/>
    <path d="M256.0,305.9 C255.0,306.6 254.6,308.0 254.2,309.4 C253.8,310.8 254.0,312.7 253.5,314.3 C253.0,315.9 251.9,317.7 251.1,319.2 C250.3,320.7 249.1,322.1 248.6,323.4 C248.1,324.7 248.0,325.8 248.3,326.9 C248.7,328.0 249.4,329.3 250.7,330.0 C252.0,330.7 254.2,331.2 256.0,331.1 C257.8,331.1 260.3,330.5 261.6,329.7 C262.9,328.9 263.8,327.6 264.0,326.2 C264.2,324.8 262.9,323.1 262.6,321.3 C262.3,319.6 262.1,317.6 262.3,315.7 C262.5,313.8 263.5,311.8 263.7,310.1 C263.9,308.4 263.9,306.3 263.3,305.5 C262.7,304.7 261.4,305.1 260.2,305.2 C259.0,305.3 257.0,305.2 256.0,305.9 Z" fill="none" stroke="#f6c40c" stroke-width="2.38" stroke-linecap="round" stroke-linejoin="round"/>
    <path d="M258.8,309.7 C258.7,310.9 258.5,314.7 258.1,317.1 C257.7,319.5 256.8,322.2 256.3,324.1 C255.8,326.0 255.1,327.6 254.9,328.3" fill="none" stroke="#f6c40c" stroke-width="2.24" stroke-linecap="round" stroke-linejoin="round"/>
    <ellipse cx="260.4" cy="301.4" rx="1.8" ry="2.9" fill="#8a2a08" stroke="#8a2a08" stroke-width="0.66" transform="rotate(15 260.4 301.4)"/>
    <path d="M272.4,352.5 C271.6,353.4 271.6,355.6 271.7,357.4 C271.8,359.1 272.3,361.2 272.7,363.0 C273.1,364.8 274.0,366.4 273.8,367.9 C273.6,369.4 272.1,370.9 271.7,372.1 C271.3,373.3 270.9,374.0 271.3,374.9 C271.7,375.8 272.5,377.1 273.8,377.7 C275.1,378.3 277.5,378.8 279.4,378.7 C281.3,378.6 283.7,378.0 285.0,377.0 C286.3,376.0 287.2,374.2 287.4,372.8 C287.6,371.4 287.1,370.1 286.4,368.6 C285.6,367.1 283.7,365.4 282.9,363.7 C282.1,361.9 282.0,359.7 281.5,358.1 C281.0,356.5 280.5,354.9 279.7,353.9 C278.9,352.8 277.8,352.0 276.6,351.8 C275.4,351.6 273.2,351.6 272.4,352.5 Z" fill="none" stroke="#f6c40c" stroke-width="2.38" stroke-linecap="round" stroke-linejoin="round"/>
    <path d="M276.6,357.0 C276.8,358.2 277.1,362.0 277.6,364.4 C278.1,366.8 278.8,369.5 279.4,371.4 C280.0,373.3 280.8,374.9 281.1,375.6" fill="none" stroke="#f6c40c" stroke-width="2.24" stroke-linecap="round" stroke-linejoin="round"/>
    <ellipse cx="275.5" cy="348.6" rx="1.8" ry="2.8" fill="#8a2a08" stroke="#8a2a08" stroke-width="0.66" transform="rotate(-15 275.5 348.6)"/>
    <path d="M234.4,381.6 C233.6,381.5 232.1,382.0 231.5,382.9 C230.9,383.8 231.0,385.4 230.6,386.7 C230.2,388.0 230.2,389.2 229.3,390.5 C228.5,391.8 226.6,393.0 225.5,394.3 C224.4,395.6 223.5,396.9 223.0,398.1 C222.5,399.4 222.3,400.7 222.6,401.8 C222.9,402.9 223.7,404.3 224.9,405.0 C226.1,405.7 228.2,406.1 229.9,406.0 C231.6,405.9 233.8,405.2 235.0,404.4 C236.2,403.6 237.0,402.4 237.2,401.2 C237.3,400.0 236.1,398.8 235.9,397.4 C235.7,396.0 235.8,394.6 235.9,393.0 C236.0,391.4 236.5,389.5 236.6,387.9 C236.7,386.3 236.7,384.6 236.3,383.5 C235.9,382.4 235.2,381.7 234.4,381.6 Z" fill="none" stroke="#ff6208" stroke-width="2.24" stroke-linecap="round" stroke-linejoin="round"/>
    <path d="M233.4,384.8 C233.2,385.6 232.8,388.1 232.5,389.8 C232.2,391.5 232.0,392.5 231.8,394.9 C231.7,397.3 231.6,402.8 231.6,404.4" fill="none" stroke="#ff6208" stroke-width="1.98" stroke-linecap="round" stroke-linejoin="round"/>
    <path d="M234.8,389.0 C234.6,390.2 233.9,393.7 233.8,396.0 C233.7,398.3 234.0,401.8 234.0,403.0" fill="none" stroke="#ff6208" stroke-width="1.72" stroke-linecap="round" stroke-linejoin="round"/>
    <circle cx="230.4" cy="393.8" r="0.8" fill="#ff6208"/>
    <circle cx="229.8" cy="396.8" r="0.8" fill="#ff6208"/>
    <circle cx="230" cy="400.2" r="0.8" fill="#ff6208"/>
    <ellipse cx="235" cy="379.4" rx="1.3" ry="2.0" fill="#8a3008" stroke="#8a3008" stroke-width="0.53"/>
    <!-- pumpkins -->
    <use href="#pk" transform="translate(142.3 492.5) rotate(0) scale(1.0)" color="#ff5a14"/>
    <use href="#pk" transform="translate(245.9 483.2) rotate(0) scale(0.92)" color="#ff9410"/>
    <use href="#pk" transform="translate(319.6 452.0) rotate(-5) scale(0.95)" color="#ff9410"/>
    <use href="#pk" transform="translate(346 465.8) rotate(8) scale(1.05)" color="#ff5a14"/>
    <use href="#pk" transform="translate(380 441.9) rotate(0) scale(1.0)" color="#ff9410"/>
    <use href="#pk" transform="translate(375.6 484.4) rotate(0) scale(0.95)" color="#ff9410"/>
    <use href="#pkt" transform="translate(402.6 487.9) rotate(0) scale(1.0)" color="#ff5a14"/>
    <use href="#pk" transform="translate(458.2 409.2) rotate(-4) scale(1.0)" color="#ff9410"/>
    <use href="#pk" transform="translate(486.2 423.8) rotate(6) scale(1.08)" color="#ff5a14"/>
    <use href="#pk" transform="translate(508.4 442.4) rotate(0) scale(0.85)" color="#ff9410"/>
    <use href="#pkt" transform="translate(546.6 447.2) rotate(0) scale(1.0)" color="#ff5a14"/>
    <use href="#pk" transform="translate(449.5 453.6) rotate(-4) scale(0.95)" color="#ff9410"/>
    <use href="#pk" transform="translate(475.6 467.4) rotate(4) scale(1.05)" color="#ff5a14"/>
    <use href="#pk" transform="translate(555.9 467.2) rotate(0) scale(0.82)" color="#ff9410"/>
    <use href="#pk" transform="translate(481.9 495.8) rotate(0) scale(1.05)" color="#ff5a14"/>
    <use href="#pk" transform="translate(508.9 497.6) rotate(10) scale(1.0)" color="#ff5a14"/>
    <use href="#pkt" transform="translate(532.4 489.3) rotate(0) scale(0.95)" color="#ff5a14"/>
    <use href="#pk" transform="translate(583.3 487.9) rotate(0) scale(0.9)" color="#ff9410"/>
    <use href="#pk" transform="translate(657.1 457.2) rotate(0) scale(0.95)" color="#ff9410"/>
    <use href="#pk" transform="translate(683.3 470.7) rotate(6) scale(1.1)" color="#ff5a14"/>
    <use href="#pk" transform="translate(672.1 490.4) rotate(0) scale(1.0)" color="#ff5a14"/>
    <use href="#pkt" transform="translate(740.3 492.6) rotate(0) scale(1.0)" color="#ff5a14"/>
    <ellipse cx="173.1" cy="474.8" rx="2.3" ry="4.6" transform="rotate(8 173.1 474.8)" fill="none" stroke="#6c960e" stroke-width="2.2"/>
    <ellipse cx="179.7" cy="476.2" rx="2.4" ry="5.0" transform="rotate(-30 179.7 476.2)" fill="none" stroke="#6c960e" stroke-width="2.2"/>
    <ellipse cx="185.1" cy="473.5" rx="2.5" ry="4.4" transform="rotate(-50 185.1 473.5)" fill="none" stroke="#6c960e" stroke-width="2.2"/>
    <rect x="172.6" y="465.4" width="5.0" height="4.4" rx="1" fill="#b84a20" stroke="#a82808" stroke-width="1"/>
    <ellipse cx="386.9" cy="357.9" rx="2.3" ry="4.6" transform="rotate(10 386.9 357.9)" fill="none" stroke="#6c960e" stroke-width="2.2"/>
    <ellipse cx="393" cy="357.9" rx="2.3" ry="4.6" transform="rotate(-15 393 357.9)" fill="none" stroke="#6c960e" stroke-width="2.2"/>
    <ellipse cx="398" cy="355.7" rx="2.8" ry="4.5" transform="rotate(-38 398 355.7)" fill="none" stroke="#6c960e" stroke-width="2.2"/>
    <rect x="387.4" y="348.6" width="4.8" height="3.8" rx="1" fill="#b84a20" stroke="#a82808" stroke-width="1"/>
    <ellipse cx="452.2" cy="280.8" rx="2.4" ry="5.2" transform="rotate(5 452.2 280.8)" fill="none" stroke="#6c960e" stroke-width="2.2"/>
    <ellipse cx="458" cy="281.3" rx="2.3" ry="4.8" transform="rotate(-30 458 281.3)" fill="none" stroke="#6c960e" stroke-width="2.2"/>
    <ellipse cx="463.4" cy="279.2" rx="2.5" ry="4.6" transform="rotate(-62 463.4 279.2)" fill="none" stroke="#6c960e" stroke-width="2.2"/>
    <rect x="450.8" y="269.4" width="4.6" height="5.4" rx="1" fill="#b84a20" stroke="#a82808" stroke-width="1"/>
  </g>
</svg>
</body>
</html>
